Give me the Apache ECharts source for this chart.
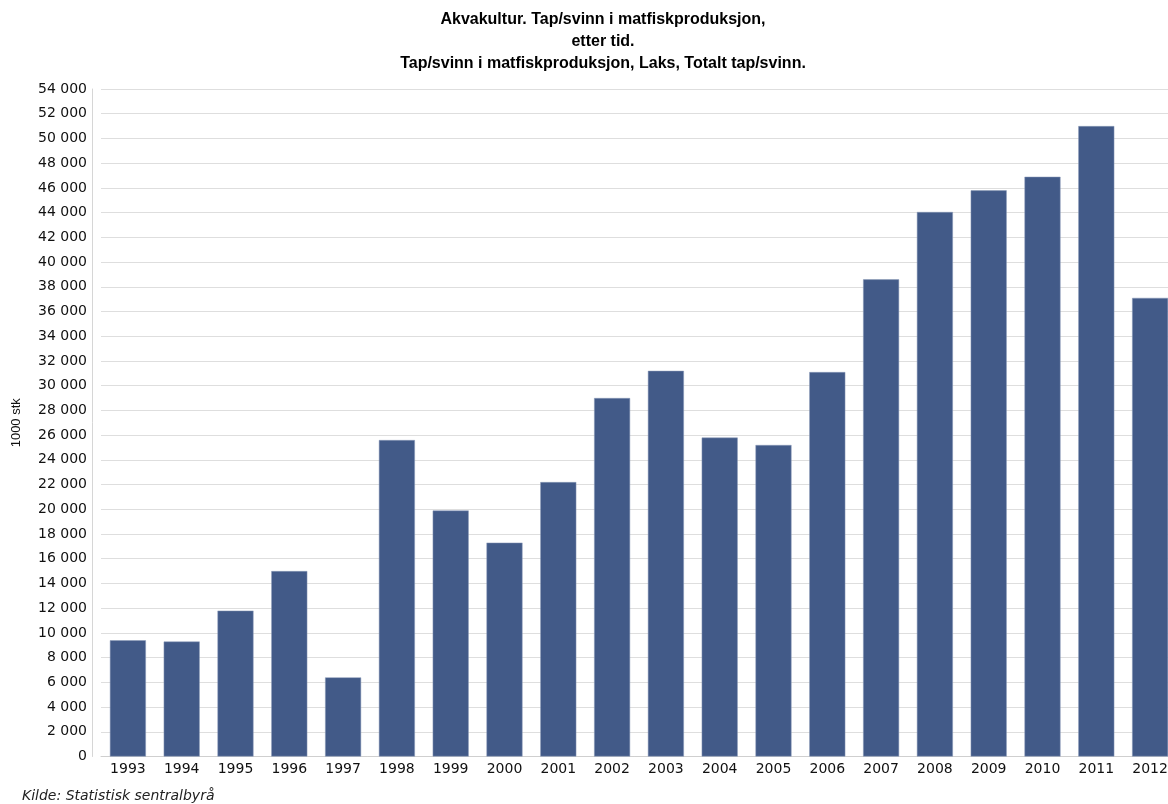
<!DOCTYPE html>
<html>
<head>
<meta charset="utf-8">
<script src="https://cdn.jsdelivr.net/npm/echarts@6/dist/echarts.min.js"></script>
<style>
html,body{margin:0;padding:0;background:#fff;}
#chart{width:1168px;height:804px;}
</style>
</head>
<body>
<div id="chart"></div>
<script>
const titleLines = ["Akvakultur. Tap/svinn i matfiskproduksjon,", "etter tid.", "Tap/svinn i matfiskproduksjon, Laks, Totalt tap/svinn."];
const years = ["1993","1994","1995","1996","1997","1998","1999","2000","2001","2002","2003","2004","2005","2006","2007","2008","2009","2010","2011","2012"];
const totalLoss = [9400, 9300, 11800, 15000, 6400, 25600, 19900, 17300, 22200, 29000, 31200, 25800, 25200, 31100, 38600, 44050, 45800, 46900, 51000, 37100];
const yMin = 0, yMax = 54000, yStep = 2000;
const yAxisName = "1000 stk";
const source = "Kilde: Statistisk sentralbyrå";

const chart = echarts.init(document.getElementById('chart'), null, {renderer: 'canvas'});
chart.setOption({
  animation: false,
  backgroundColor: '#ffffff',
  title: [{
    text: titleLines.join('\n'),
    left: 598, top: 4, textAlign: 'center',
    textStyle: {fontFamily: '"Liberation Sans Narrow", "Liberation Sans", Arial, sans-serif', fontWeight: 'bold', fontSize: 16, lineHeight: 22, color: '#000'}
  }, {
    text: source,
    left: 17, top: 784,
    textStyle: {fontFamily: '"DejaVu Sans", sans-serif', fontStyle: 'italic', fontWeight: 'normal', fontSize: 14, color: '#222'}
  }],
  grid: {left: 101, width: 1076, top: 89, height: 667.5, containLabel: false, outerBoundsMode: 'none'},
  xAxis: {
    type: 'category', data: years,
    axisLine: {show: true, lineStyle: {color: '#cfcfcf'}},
    axisTick: {show: false},
    axisLabel: {color: '#111', fontFamily: '"DejaVu Sans", sans-serif', fontSize: 14, margin: 6}
  },
  yAxis: {
    type: 'value', min: yMin, max: yMax, interval: yStep, offset: 9,
    name: yAxisName, nameLocation: 'middle', nameGap: 69, nameRotate: 90,
    nameTextStyle: {color: '#111', fontFamily: '"Liberation Sans", Arial, sans-serif', fontSize: 13},
    axisLine: {show: true, lineStyle: {color: '#d6d6d6'}},
    axisTick: {show: false},
    axisLabel: {color: '#111', fontFamily: '"DejaVu Sans", sans-serif', fontSize: 14, margin: 5,
      formatter: v => String(v).replace(/\B(?=(\d{3})+(?!\d))/g, ' ')},
    splitLine: {show: true, lineStyle: {color: '#dedede', width: 1}}
  },
  series: [{
    type: 'bar', data: totalLoss, barWidth: 36,
    itemStyle: {color: '#425a88', borderColor: '#8a9bb8', borderWidth: 0.5}
  }]
});
</script>
</body>
</html>
